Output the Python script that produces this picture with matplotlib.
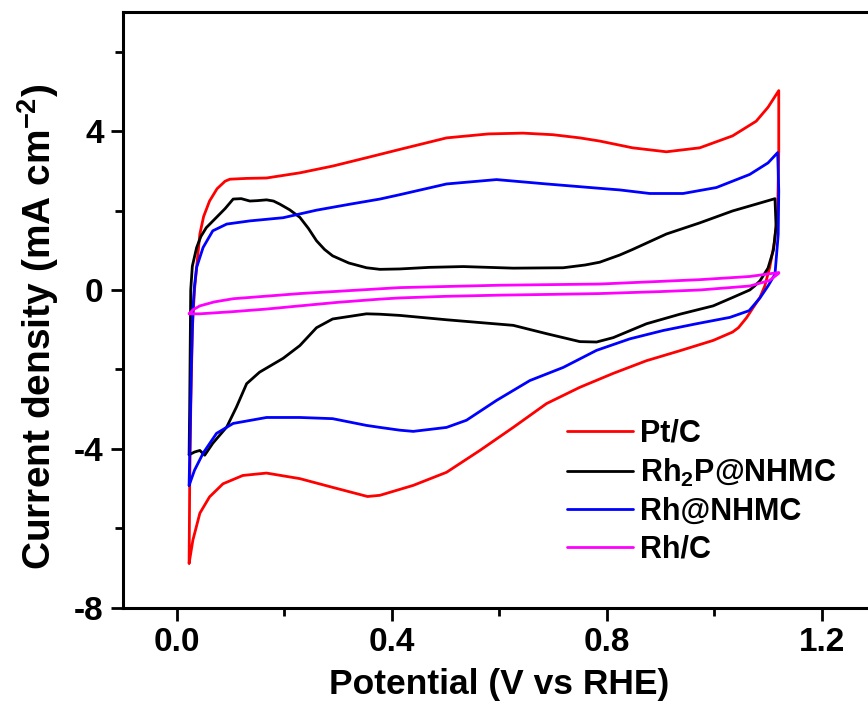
import matplotlib
matplotlib.use("Agg")
import matplotlib.pyplot as plt
from matplotlib.ticker import MultipleLocator, FormatStrFormatter

plt.rcParams['font.family'] = ['Liberation Sans', 'DejaVu Sans']
plt.rcParams['font.weight'] = 'bold'
plt.rcParams['axes.unicode_minus'] = False
plt.rcParams['mathtext.fontset'] = 'custom'
plt.rcParams['mathtext.rm'] = 'Liberation Sans:bold'
plt.rcParams['mathtext.bf'] = 'Liberation Sans:bold'
plt.rcParams['mathtext.default'] = 'bf'

# CV loops: anodic sweep then cathodic sweep back
ptc_v = [0.023, 0.024, 0.026, 0.029, 0.033, 0.037, 0.043, 0.05, 0.061, 0.075, 0.09, 0.099,
         0.13, 0.167, 0.229, 0.29, 0.353, 0.415, 0.502, 0.58, 0.644, 0.7, 0.75, 0.787,
         0.848, 0.911, 0.973, 1.034, 1.078, 1.1, 1.12,
         1.12, 1.118, 1.112, 1.103, 1.094, 1.085, 1.072, 1.06, 1.045, 1.034, 0.998, 0.936,
         0.874, 0.812, 0.75, 0.688, 0.626, 0.564, 0.502, 0.44, 0.378, 0.355, 0.29, 0.229,
         0.167, 0.123, 0.086, 0.061, 0.043, 0.03, 0.023]
ptc_i = [-6.88, -5.0, -3.0, -1.0, 0.0, 0.57, 1.41, 1.85, 2.24, 2.55, 2.74, 2.79,
         2.81, 2.82, 2.95, 3.12, 3.33, 3.54, 3.83, 3.93, 3.95, 3.91, 3.83, 3.75,
         3.58, 3.48, 3.58, 3.88, 4.25, 4.6, 5.02,
         3.5, 2.0, 1.2, 0.56, 0.1, -0.19, -0.45, -0.7, -0.95, -1.06, -1.27, -1.53,
         -1.78, -2.1, -2.45, -2.86, -3.46, -4.04, -4.59, -4.92, -5.17, -5.2, -4.97, -4.75,
         -4.61, -4.67, -4.88, -5.21, -5.62, -6.3, -6.88]

rh2p_v = [0.023, 0.024, 0.025, 0.026, 0.029, 0.037, 0.045, 0.055, 0.074, 0.09, 0.105, 0.12,
          0.136, 0.15, 0.167, 0.18, 0.192, 0.21, 0.229, 0.245, 0.26, 0.275, 0.29, 0.32,
          0.353, 0.378, 0.415, 0.47, 0.533, 0.626, 0.719, 0.76, 0.787, 0.824, 0.848, 0.911,
          0.973, 1.034, 1.08, 1.113,
          1.115, 1.11, 1.1, 1.085, 1.075, 1.066, 1.034, 0.998, 0.936, 0.874, 0.812, 0.781,
          0.75, 0.688, 0.626, 0.502, 0.415, 0.378, 0.353, 0.29, 0.26, 0.229, 0.198, 0.154,
          0.13, 0.111, 0.093, 0.067, 0.052, 0.043, 0.033, 0.023]
rh2p_i = [-4.15, -3.0, -1.5, 0.0, 0.6, 1.07, 1.35, 1.57, 1.83, 2.05, 2.29, 2.3,
          2.24, 2.25, 2.27, 2.24, 2.16, 2.02, 1.83, 1.55, 1.24, 1.02, 0.86, 0.68,
          0.56, 0.52, 0.53, 0.57, 0.59, 0.55, 0.56, 0.63, 0.7, 0.88, 1.02, 1.41,
          1.69, 1.99, 2.17, 2.3,
          1.6, 1.0, 0.55, 0.23, 0.1, 0.0, -0.19, -0.4, -0.61, -0.85, -1.2, -1.31,
          -1.3, -1.1, -0.89, -0.75, -0.64, -0.61, -0.6, -0.73, -0.95, -1.4, -1.72, -2.07,
          -2.36, -2.95, -3.45, -3.86, -4.16, -4.04, -4.08, -4.15]

rh_v = [0.023, 0.025, 0.027, 0.03, 0.033, 0.037, 0.049, 0.067, 0.093, 0.136, 0.198, 0.26,
        0.322, 0.378, 0.415, 0.502, 0.595, 0.688, 0.787, 0.824, 0.88, 0.942, 1.004, 1.066,
        1.1, 1.118,
        1.12, 1.119, 1.113, 1.1, 1.085, 1.065, 1.029, 0.967, 0.905, 0.843, 0.781, 0.719,
        0.657, 0.595, 0.539, 0.502, 0.44, 0.415, 0.378, 0.353, 0.29, 0.229, 0.167, 0.105,
        0.074, 0.049, 0.033, 0.023]
rh_i = [-4.92, -3.5, -2.0, -0.5, 0.1, 0.57, 1.07, 1.49, 1.66, 1.74, 1.82, 2.01,
        2.16, 2.29, 2.4, 2.67, 2.78, 2.67, 2.56, 2.52, 2.43, 2.43, 2.58, 2.91,
        3.2, 3.46,
        2.5, 1.4, 0.4, 0.1, -0.2, -0.52, -0.69, -0.85, -1.02, -1.23, -1.52, -1.95,
        -2.28, -2.78, -3.28, -3.46, -3.56, -3.53, -3.46, -3.41, -3.24, -3.21, -3.21, -3.36,
        -3.61, -4.11, -4.54, -4.92]

rhc_v = [0.023, 0.03, 0.043, 0.07, 0.105, 0.229, 0.378, 0.415, 0.6, 0.787, 0.973, 1.066, 1.12,
         1.12, 1.103, 1.066, 0.973, 0.9, 0.787, 0.7, 0.6, 0.5, 0.415, 0.378, 0.3, 0.229,
         0.167, 0.1, 0.043, 0.023]
rhc_i = [-0.6, -0.5, -0.4, -0.3, -0.22, -0.09, 0.03, 0.06, 0.12, 0.15, 0.26, 0.34, 0.44,
         0.42, 0.24, 0.1, 0.0, -0.04, -0.09, -0.11, -0.13, -0.16, -0.2, -0.23, -0.31, -0.4,
         -0.48, -0.55, -0.6, -0.6]

fig = plt.figure(figsize=(8.68, 7.08), dpi=100)
# axes runs past the right edge, as in the cropped original
ax = fig.add_axes([123 / 868, 1 - 607.7 / 708, 752.5 / 868, 595.7 / 708])

lw = 2.0
style = dict(lw=lw, solid_joinstyle='round', solid_capstyle='round')
ax.plot(ptc_v, ptc_i, color='#ff0000', label='Pt/C', **style)
ax.plot(rh2p_v, rh2p_i, color='black', label='Rh$_2$P@NHMC', **style)
ax.plot(rh_v, rh_i, color='#0000ff', label='Rh@NHMC', **style)
ax.plot(rhc_v, rhc_i, color='#ff00ff', label='Rh/C', **style)

ax.set_xlim(-0.1, 1.3)
ax.set_ylim(-8, 7)
ax.xaxis.set_major_locator(MultipleLocator(0.4))
ax.xaxis.set_minor_locator(MultipleLocator(0.2))
ax.yaxis.set_major_locator(MultipleLocator(4))
ax.yaxis.set_minor_locator(MultipleLocator(2))
ax.xaxis.set_major_formatter(FormatStrFormatter('%.1f'))

for s in ax.spines.values():
    s.set_linewidth(2.2)
ax.tick_params(which='major', direction='out', length=9, width=2, labelsize=24, pad=5)
ax.tick_params(which='minor', direction='out', length=5.5, width=2)
ax.tick_params(top=False, right=False, which='both')
for lab in ax.get_xticklabels() + ax.get_yticklabels():
    lab.set_fontweight('bold')

ax.set_xlabel('Potential (V vs RHE)', fontsize=25.5, fontweight='bold')
ax.set_ylabel('Current density (mA cm$^{-2}$)', fontsize=28, fontweight='bold')
ax.xaxis.set_label_coords(0.5, (607.7 - 668) / 595.7)
ax.yaxis.set_label_coords((61 - 123) / 752.5, (607.7 - 326.5) / 595.7)

leg = ax.legend(loc='center left', bbox_to_anchor=(567 / 868, 1 - 491.5 / 708),
                bbox_transform=fig.transFigure, frameon=False, fontsize=22,
                handlelength=2.15, handletextpad=0.25, labelspacing=0.26,
                borderpad=0, borderaxespad=0)
for t in leg.get_texts():
    t.set_fontweight('bold')

fig.savefig('out.png', dpi=100)
